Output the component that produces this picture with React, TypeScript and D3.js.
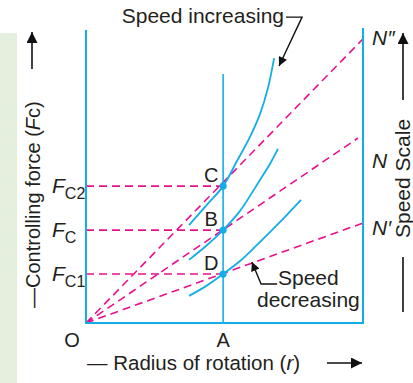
import React from "react";
import * as d3 from "d3";

// ---- data (chart units: radius 0..10, force 0..10) ----
const radiusA = 4.95;
const pointLabels = ["C", "B", "D"];
const forceLevels = [4.64, 3.15, 1.66];
const forceMain = ["F", "F", "F"];
const forceSub = ["C2", "C", "C1"];

const rayEndX = [10, 9.82, 10];
const rayEndY = [9.63, 6.27, 3.39];
const speedLabels = ["N\u2033", "N", "N\u2032"];
const speedLabelLevels = [9.66, 5.49, 3.22];

const curveHigh: [number, number][] = [
  [3.72, 3.32], [4.33, 3.97], [4.95, 4.64], [5.45, 5.49], [5.92, 6.31],
  [6.28, 7.08], [6.57, 7.97], [6.79, 8.98],
];
const curveMid: [number, number][] = [
  [3.72, 2.14], [4.33, 2.61], [4.95, 3.15], [5.56, 3.8], [6.28, 4.85],
  [6.64, 5.39], [6.93, 5.9],
];
const curveLow: [number, number][] = [
  [3.72, 0.92], [4.33, 1.25], [4.95, 1.66], [5.56, 2.1], [6.1, 2.58],
  [6.64, 3.08], [7.22, 3.63], [7.76, 4.17],
];
const curves = [curveHigh, curveMid, curveLow];

const increasingArrow: [number, number][] = [[7.22, 10.37], [7.8, 10.37], [6.97, 8.71]];
const decreasingArrow: [number, number][] = [[6.9, 1.32], [6.32, 1.32], [5.99, 2.07]];

const xMax = 10;
const yMax = 10;
const leftAxisTop = 9.93;
const aLineTop = 8.44;

const BLUE = "#14aee6";
const MAGENTA = "#e8118d";
const INK = "#231f20";
const FONT = "'Liberation Sans', Arial, Helvetica, sans-serif";

export default function App() {
  const x = d3.scaleLinear().domain([0, xMax]).range([86, 363]);
  const y = d3.scaleLinear().domain([0, yMax]).range([323, 28]);
  const line = d3
    .line<[number, number]>()
    .x((d) => x(d[0]))
    .y((d) => y(d[1]))
    .curve(d3.curveCatmullRom.alpha(0.5));
  const poly = d3
    .line<[number, number]>()
    .x((d) => x(d[0]))
    .y((d) => y(d[1]));

  const dash = "8 5";
  return (
    <svg
      width={413}
      height={383}
      style={{ position: "absolute", left: 0, top: 0, background: "#fff" }}
      fontFamily={FONT}
    >
      <defs>
        <marker id="ah" viewBox="0 0 10 10" refX="10" refY="5" markerUnits="userSpaceOnUse"
          markerWidth="14" markerHeight="11" orient="auto">
          <path d="M0,0 L10,5 L0,10 z" fill="#111" />
        </marker>
        <marker id="ahs" viewBox="0 0 10 10" refX="10" refY="5" markerUnits="userSpaceOnUse"
          markerWidth="13" markerHeight="9" orient="auto">
          <path d="M0,0 L10,5 L0,10 z" fill="#111" />
        </marker>
      </defs>
      {/* green side band */}
      <rect x={0} y={33} width={17} height={350} fill="#e4f0dd" />

      {/* dashed horizontals */}
      {forceLevels.map((f, i) => (
        <line key={"h" + i} x1={x(0)} x2={x(radiusA)} y1={y(f)} y2={y(f)}
          stroke={MAGENTA} strokeWidth={1.6} strokeDasharray={dash} />
      ))}
      {/* rays */}
      {rayEndX.map((rx, i) => (
        <line key={"r" + i} x1={x(0)} y1={y(0)} x2={x(rx)} y2={y(rayEndY[i])}
          stroke={MAGENTA} strokeWidth={1.6} strokeDasharray={dash} />
      ))}

      {/* axes frame */}
      <line x1={x(0)} x2={x(0)} y1={y(0)} y2={y(leftAxisTop)} stroke={BLUE} strokeWidth={2} />
      <line x1={x(0) - 1} x2={x(xMax) + 1} y1={y(0)} y2={y(0)} stroke={BLUE} strokeWidth={2} />
      <line x1={x(xMax)} x2={x(xMax)} y1={y(0)} y2={y(yMax)} stroke={BLUE} strokeWidth={2} />
      <line x1={x(radiusA)} x2={x(radiusA)} y1={y(0)} y2={y(aLineTop)} stroke={BLUE} strokeWidth={1.6} />

      {/* curves */}
      {curves.map((c, i) => (
        <path key={"c" + i} d={line(c) || ""} fill="none" stroke={BLUE} strokeWidth={1.8} />
      ))}
      {/* points */}
      {forceLevels.map((f, i) => (
        <circle key={"p" + i} cx={x(radiusA)} cy={y(f)} r={3.6} fill={BLUE} />
      ))}
      {pointLabels.map((l, i) => (
        <text key={"pl" + i} x={x(radiusA) - 12} y={y(forceLevels[i]) - 4} fontSize={20}
          textAnchor="middle" fill={INK}>{l}</text>
      ))}

      {/* F labels */}
      {forceLevels.map((f, i) => (
        <text key={"fl" + i} x={52} y={y(f) + 7} fontSize={21} fill={INK}>
          <tspan fontStyle="italic">{forceMain[i]}</tspan>
          <tspan fontSize={16} dy={6}>{forceSub[i]}</tspan>
        </text>
      ))}

      {/* speed labels */}
      {speedLabels.map((l, i) => (
        <text key={"sl" + i} x={372} y={y(speedLabelLevels[i]) + 7} fontSize={21}
          fontStyle="italic" fill={INK}>{l}</text>
      ))}

      {/* O and A */}
      <text x={72} y={347} fontSize={20} textAnchor="middle" fill={INK}>O</text>
      <text x={x(radiusA)} y={347} fontSize={20} textAnchor="middle" fill={INK}>A</text>

      {/* annotations */}
      <text x={284} y={23} fontSize={21} textAnchor="end" fill={INK}>Speed increasing</text>
      <path d={poly(increasingArrow) || ""} fill="none" stroke="#111" strokeWidth={1.4} markerEnd="url(#ahs)" />
      <text x={278} y={285} fontSize={21} fill={INK}>Speed</text>
      <text x={257} y={307} fontSize={21} fill={INK}>decreasing</text>
      <path d={poly(decreasingArrow) || ""} fill="none" stroke="#111" strokeWidth={1.4} markerEnd="url(#ahs)" />

      {/* x title */}
      <text x={87} y={370} fontSize={20.5} fill={INK}>
        {"\u2014 Radius of rotation ("}
        <tspan fontStyle="italic">r</tspan>
        {")"}
      </text>
      <line x1={327} x2={362} y1={363} y2={363} stroke="#111" strokeWidth={1.6} markerEnd="url(#ah)" />

      {/* y title */}
      <text transform="translate(40,308) rotate(-90)" fontSize={20} fill={INK}>
        {"\u2014Controlling force ("}
        <tspan fontStyle="italic">F</tspan>
        {"c)"}
      </text>
      <line x1={32} x2={32} y1={69} y2={32} stroke="#111" strokeWidth={1.6} markerEnd="url(#ah)" />

      {/* speed scale */}
      <text transform="translate(410,238) rotate(-90)" fontSize={21} fill={INK}>Speed Scale</text>
      <line x1={403} x2={403} y1={312} y2={257} stroke="#111" strokeWidth={1.6} />
      <line x1={403} x2={403} y1={100} y2={33} stroke="#111" strokeWidth={1.6} markerEnd="url(#ah)" />
    </svg>
  );
}
